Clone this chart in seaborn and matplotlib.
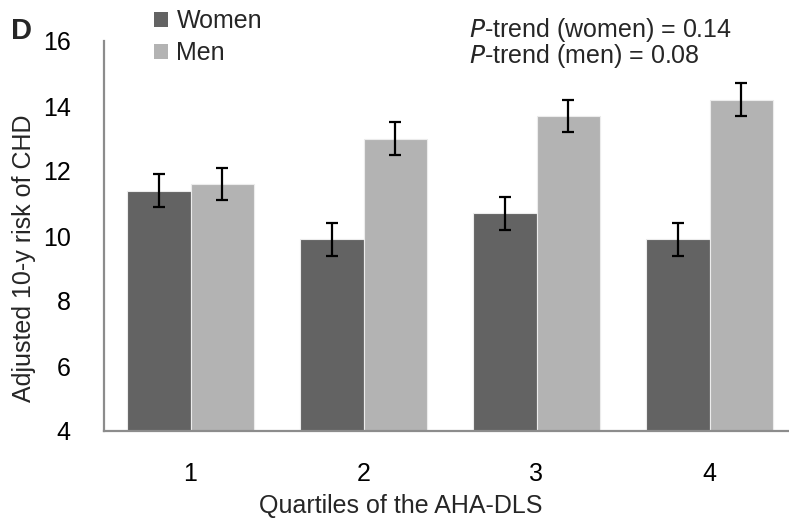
import matplotlib
matplotlib.use("Agg")
import matplotlib.pyplot as plt
import seaborn as sns
import pandas as pd

quartiles = ["1", "2", "3", "4"]
groups = ["Women", "Men"]
women_risk = [11.4, 9.9, 10.7, 9.9]
men_risk = [11.6, 13.0, 13.7, 14.2]
women_err = [0.5, 0.5, 0.5, 0.5]
men_err = [0.5, 0.5, 0.5, 0.5]
yticks = [4, 6, 8, 10, 12, 14, 16]

sns.set_theme(style="white")
plt.rcParams["font.family"] = ["Liberation Sans", "DejaVu Sans"]

df = pd.DataFrame({
    "quartile": quartiles * 2,
    "group": [groups[0]] * 4 + [groups[1]] * 4,
    "risk": women_risk + men_risk,
    "err": women_err + men_err,
})

W, H = 789, 522
fig = plt.figure(figsize=(W / 100, H / 100), dpi=100)
ax = fig.add_axes([104 / W, (H - 431) / H, (796 - 104) / W, 390 / H])

palette = {"Women": "#636363", "Men": "#b3b3b3"}
sns.barplot(data=df, x="quartile", y="risk", hue="group", hue_order=groups,
            order=quartiles, palette=palette, errorbar=None, width=0.735,
            edgecolor="#ececec", linewidth=0.8, ax=ax, saturation=1)

# error bars at bar centres taken from the drawn patches
for cont, g in zip(ax.containers, groups):
    sub = df[df["group"] == g].set_index("quartile").loc[quartiles]
    xs = [p.get_x() + p.get_width() / 2 for p in cont]
    ax.errorbar(xs, sub["risk"].values, yerr=sub["err"].values, fmt="none",
                ecolor="black", elinewidth=1.6, capsize=4.5, capthick=1.6, zorder=5)

FS = 18
ax.set_ylim(4, 16)
ax.set_yticks(yticks)
ax.set_xlim(-0.5, 3.5)
ax.tick_params(axis="both", length=0, labelsize=FS, colors="black")
ax.tick_params(axis="y", pad=24)
ax.tick_params(axis="x", pad=22)
ax.set_ylabel("")
ax.set_xlabel("")

for s in ["top", "right"]:
    ax.spines[s].set_visible(False)
for s in ["left", "bottom"]:
    ax.spines[s].set_color("#8c8c8c")
    ax.spines[s].set_linewidth(1.6)

leg = ax.legend(loc="upper left", bbox_to_anchor=((154 - 104) / (796 - 104), 1 + 32 / 390),
                frameon=False, fontsize=FS, handlelength=0.55, handleheight=0.55,
                handletextpad=0.35, labelspacing=0.32, borderaxespad=0, borderpad=0)
for h in leg.legend_handles:
    h.set_edgecolor("none")

fig.text(401 / W, 1 - 506 / H, "Quartiles of the AHA-DLS", fontsize=FS,
         ha="center", va="center")
fig.text(24 / W, 1 - 258 / H, "Adjusted 10-y risk of CHD", fontsize=FS,
         rotation=90, ha="center", va="center")
fig.text(11 / W, 1 - 31 / H, "D", fontsize=21, fontweight="bold", va="center")
fig.text(469 / W, 1 - 37 / H, "$\\mathit{P}$-trend (women) = 0.14", fontsize=FS, va="baseline")
fig.text(469 / W, 1 - 63 / H, "$\\mathit{P}$-trend (men) = 0.08", fontsize=FS, va="baseline")

fig.savefig("out.png", dpi=100)
